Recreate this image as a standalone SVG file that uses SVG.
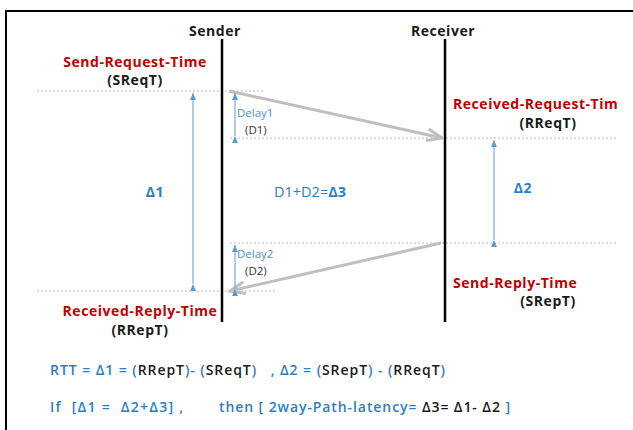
<svg xmlns="http://www.w3.org/2000/svg" width="633" height="430" viewBox="0 0 633 430">
<defs>
<style>
.lbl{font-family:"Open Sans","DejaVu Sans",sans-serif;font-weight:bold;font-size:14px;letter-spacing:0.55px}
.red{fill:#c00000}
.blk{fill:#1a1a1a}
.blu{fill:#2e7dc4}
.sm{font-family:"Open Sans","DejaVu Sans",sans-serif;font-size:11.5px}
.dot{stroke:#bdbdbd;stroke-width:1;stroke-dasharray:2,2;fill:none}
.life{stroke:#000;stroke-width:2.5}
.msg{stroke:#bfbfbf;stroke-width:3;fill:none}
.dim{stroke:#5b9bd5;stroke-width:1;fill:none}
.bot{font-family:"Open Sans","DejaVu Sans",sans-serif;font-weight:600;font-size:14px}
</style>
<marker id="open" markerWidth="18" markerHeight="14" refX="16" refY="7" orient="auto" markerUnits="userSpaceOnUse">
<path d="M1,1 L16,7 L1,13" fill="none" stroke="#bfbfbf" stroke-width="3"/>
</marker>
<marker id="tri" markerWidth="8" markerHeight="8" refX="7" refY="4" orient="auto" markerUnits="userSpaceOnUse">
<path d="M0,1 L7,4 L0,7 Z" fill="#5b9bd5"/>
</marker>
<clipPath id="cl"><rect x="0" y="0" width="617" height="430"/></clipPath>
</defs>
<rect x="0" y="0" width="633" height="430" fill="#fff"/>
<rect x="6" y="11" width="640" height="430" fill="none" stroke="#000" stroke-width="2"/>

<g id="guides">
<line class="dot" x1="37" y1="91" x2="265" y2="91"/>
<line class="dot" x1="230" y1="138" x2="617" y2="138"/>
<line class="dot" x1="230" y1="243" x2="617" y2="243"/>
<line class="dot" x1="37" y1="291" x2="277" y2="291"/>
</g>

<g id="sender">
<text class="lbl blk" x="215" y="36" text-anchor="middle">Sender</text>
<line class="life" x1="222" y1="39" x2="222" y2="322"/>
</g>
<g id="receiver">
<text class="lbl blk" x="443" y="36" text-anchor="middle">Receiver</text>
<line class="life" x1="445" y1="39" x2="445" y2="322"/>
</g>

<g id="sreqt">
<text class="lbl red" x="135" y="67" text-anchor="middle">Send-Request-Time</text>
<text class="lbl blk" x="135" y="85" text-anchor="middle">(SReqT)</text>
</g>
<g id="rreqt" clip-path="url(#cl)">
<text class="lbl red" x="453" y="109">Received-Request-Time</text>
<text class="lbl blk" x="548" y="128" text-anchor="middle">(RReqT)</text>
</g>
<g id="srept">
<text class="lbl red" x="453" y="288">Send-Reply-Time</text>
<text class="lbl blk" x="548" y="306" text-anchor="middle">(SRepT)</text>
</g>
<g id="rrept">
<text class="lbl red" x="140" y="316" text-anchor="middle">Received-Reply-Time</text>
<text class="lbl blk" x="140" y="335" text-anchor="middle">(RRepT)</text>
</g>

<g id="connectors">
<line class="msg" x1="229" y1="91" x2="442" y2="138" marker-end="url(#open)"/>
<line class="msg" x1="441" y1="243" x2="230" y2="291" marker-end="url(#open)"/>
<line class="dim" x1="193" y1="284" x2="193" y2="93" marker-end="url(#tri)" marker-start="url(#tri)"/>
<line class="dim" x1="235" y1="136" x2="235" y2="93" marker-end="url(#tri)" marker-start="url(#tri)"/>
<line class="dim" x1="494" y1="240" x2="494" y2="140" marker-end="url(#tri)" marker-start="url(#tri)"/>
<line class="dim" x1="235" y1="289" x2="235" y2="245" marker-end="url(#tri)" marker-start="url(#tri)"/>
</g>

<g id="delta1"><text class="lbl blu" x="155" y="197" text-anchor="middle">Δ1</text></g>
<g id="delta2"><text class="lbl blu" x="523" y="193" text-anchor="middle">Δ2</text></g>
<g id="delta3"><text x="274" y="197" font-family="Open Sans, DejaVu Sans, sans-serif" font-size="14.5" fill="#2e7dc4">D1+D2=<tspan font-weight="bold">Δ3</tspan></text></g>
<g id="d1">
<text class="sm" x="237" y="117" fill="#4a90d4">Delay1</text>
<text class="sm" x="245" y="134" fill="#333">(D1)</text>
</g>
<g id="d2">
<text class="sm" x="237" y="258" fill="#4a90d4">Delay2</text>
<text class="sm" x="245" y="275" fill="#333">(D2)</text>
</g>

<g id="formula1">
<text class="bot blu" x="50" y="375" textLength="395" lengthAdjust="spacing" xml:space="preserve">RTT = Δ1 = (<tspan class="blk">RRepT</tspan>)- (<tspan class="blk">SReqT</tspan>)   , Δ2 = (<tspan class="blk">SRepT</tspan>) - (<tspan class="blk">RReqT</tspan>)</text>
</g>
<g id="formula2">
<text class="bot blu" x="50" y="412" textLength="133" lengthAdjust="spacing" xml:space="preserve">If  [Δ1 =  Δ2+Δ3] ,</text>
<text class="bot blu" x="219" y="412" textLength="291" lengthAdjust="spacing" xml:space="preserve">then [ 2way-Path-latency= <tspan class="blk">Δ3= Δ1- Δ2</tspan> ]</text>
</g>
</svg>
